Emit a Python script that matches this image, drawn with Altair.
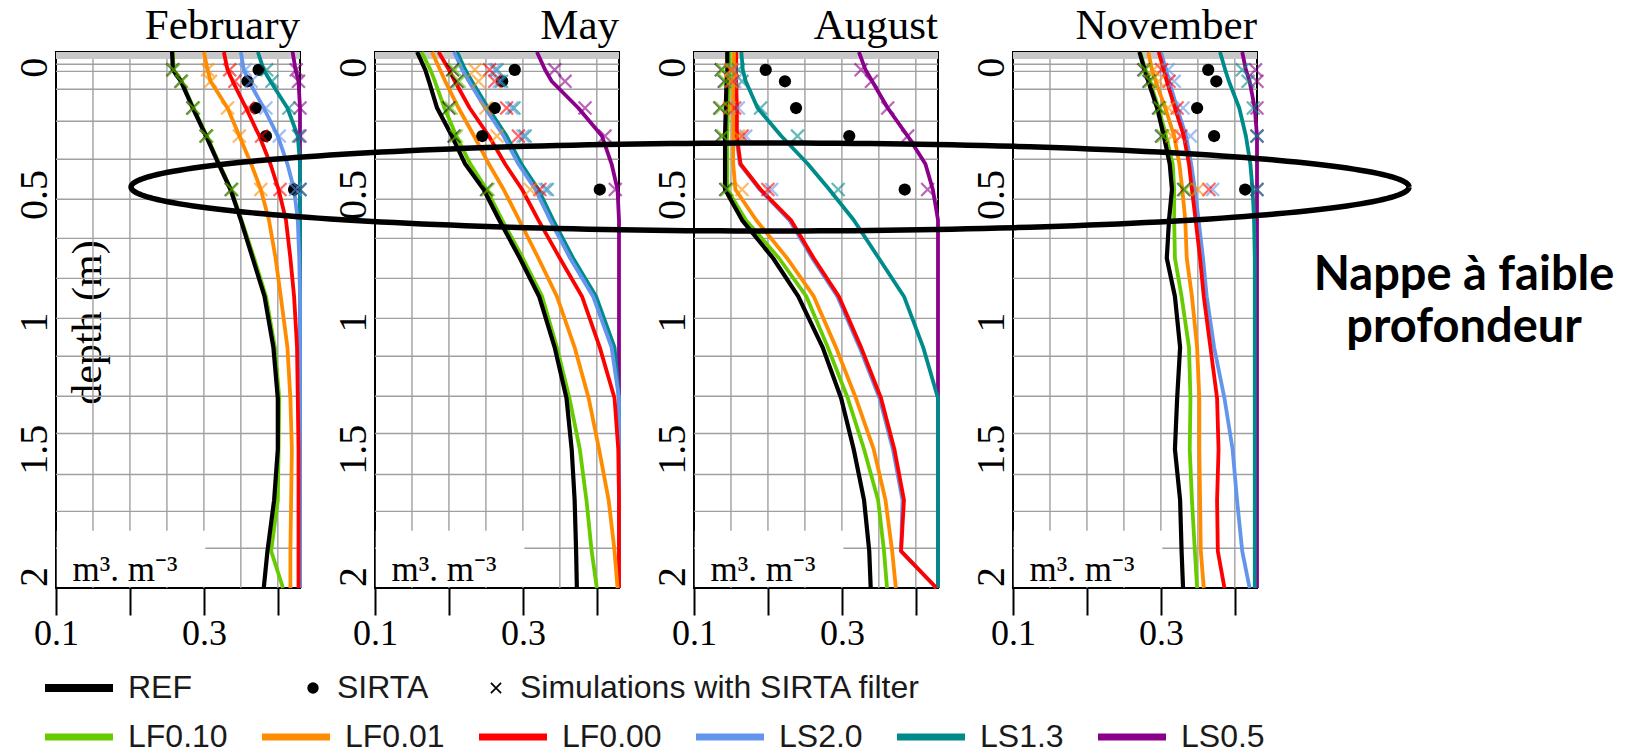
import numpy as np
import pandas as pd
import altair as alt

MONTHS = ["February", "May", "August", "November"]
SERIES = ["LF0.10", "LF0.01", "LF0.00", "LS2.0", "LS1.3", "LS0.5"]
SERIES_COLORS = ["#66cc00", "#ff8c00", "#ff0000", "#6495ed", "#008b8b", "#8b008b"]
DRAW_ORDER = ["LS0.5", "LS1.3", "LS2.0", "LF0.00", "LF0.01", "LF0.10"]

# depth levels (m) of the simulated profiles
DEPTHS = [-0.06, 0.01, 0.055, 0.16, 0.27, 0.38, 0.48, 0.6, 0.75, 0.9, 1.1, 1.3, 1.5, 1.7, 1.9, 2.045]

FEB_PROFILES = {
    "REF":    [0.257, 0.258, 0.269, 0.285, 0.303, 0.320, 0.336, 0.350, 0.366, 0.382, 0.394, 0.400, 0.400, 0.395, 0.386, 0.381],
    "LF0.10": [0.258, 0.259, 0.270, 0.286, 0.304, 0.321, 0.337, 0.351, 0.368, 0.384, 0.396, 0.402, 0.401, 0.400, 0.391, 0.407],
    "LF0.01": [0.300, 0.305, 0.309, 0.332, 0.348, 0.364, 0.377, 0.388, 0.397, 0.404, 0.413, 0.417, 0.419, 0.418, 0.417, 0.417],
    "LF0.00": [0.327, 0.332, 0.339, 0.357, 0.375, 0.390, 0.401, 0.411, 0.417, 0.422, 0.426, 0.427, 0.428, 0.428, 0.428, 0.428],
    "LS2.0":  [0.350, 0.354, 0.361, 0.381, 0.400, 0.413, 0.422, 0.427, 0.429, 0.430, 0.430, 0.430, 0.430, 0.430, 0.430, 0.430],
    "LS1.3":  [0.373, 0.381, 0.390, 0.413, 0.427, 0.430, 0.430, 0.430, 0.430, 0.430, 0.430, 0.430, 0.430, 0.430, 0.430, 0.430],
    "LS0.5":  [0.420, 0.424, 0.428, 0.430, 0.430, 0.430, 0.430, 0.430, 0.430, 0.430, 0.430, 0.430, 0.430, 0.430, 0.430, 0.430],
}
MAY_PROFILES = {
    "REF":    [0.157, 0.168, 0.173, 0.184, 0.204, 0.222, 0.247, 0.268, 0.296, 0.322, 0.343, 0.359, 0.366, 0.370, 0.372, 0.373],
    "LF0.10": [0.163, 0.175, 0.181, 0.194, 0.210, 0.229, 0.251, 0.272, 0.300, 0.326, 0.346, 0.363, 0.377, 0.386, 0.393, 0.400],
    "LF0.01": [0.177, 0.188, 0.195, 0.213, 0.234, 0.254, 0.274, 0.295, 0.321, 0.346, 0.370, 0.389, 0.403, 0.416, 0.424, 0.428],
    "LF0.00": [0.186, 0.200, 0.208, 0.228, 0.254, 0.276, 0.299, 0.321, 0.350, 0.380, 0.404, 0.424, 0.429, 0.430, 0.430, 0.430],
    "LS2.0":  [0.207, 0.218, 0.227, 0.249, 0.274, 0.294, 0.317, 0.337, 0.364, 0.395, 0.420, 0.430, 0.430, 0.430, 0.430, 0.430],
    "LS1.3":  [0.211, 0.222, 0.231, 0.253, 0.278, 0.298, 0.321, 0.341, 0.368, 0.399, 0.424, 0.430, 0.430, 0.430, 0.430, 0.430],
    "LS0.5":  [0.319, 0.330, 0.339, 0.375, 0.407, 0.420, 0.428, 0.430, 0.430, 0.430, 0.430, 0.430, 0.430, 0.430, 0.430, 0.430],
}
AUG_PROFILES = {
    "REF":    [0.145, 0.145, 0.144, 0.143, 0.142, 0.142, 0.142, 0.165, 0.207, 0.241, 0.274, 0.299, 0.316, 0.330, 0.337, 0.339],
    "LF0.10": [0.148, 0.148, 0.147, 0.146, 0.145, 0.145, 0.145, 0.170, 0.215, 0.252, 0.281, 0.308, 0.330, 0.349, 0.357, 0.361],
    "LF0.01": [0.154, 0.154, 0.153, 0.153, 0.153, 0.153, 0.156, 0.184, 0.226, 0.262, 0.292, 0.319, 0.343, 0.359, 0.368, 0.373],
    "LF0.00": [0.157, 0.157, 0.157, 0.158, 0.158, 0.163, 0.190, 0.231, 0.262, 0.296, 0.326, 0.353, 0.371, 0.384, 0.380, 0.428],
    "LS2.0":  [0.156, 0.156, 0.156, 0.157, 0.157, 0.162, 0.189, 0.229, 0.260, 0.294, 0.324, 0.351, 0.369, 0.382, 0.380, 0.428],
    "LS1.3":  [0.164, 0.166, 0.170, 0.186, 0.218, 0.254, 0.283, 0.316, 0.350, 0.384, 0.410, 0.430, 0.430, 0.430, 0.430, 0.430],
    "LS0.5":  [0.323, 0.332, 0.341, 0.362, 0.389, 0.413, 0.423, 0.430, 0.430, 0.430, 0.430, 0.430, 0.430, 0.430, 0.430, 0.430],
}
NOV_PROFILES = {
    "REF":    [0.271, 0.278, 0.283, 0.295, 0.304, 0.312, 0.315, 0.311, 0.308, 0.319, 0.326, 0.322, 0.319, 0.326, 0.328, 0.330],
    "LF0.10": [0.272, 0.279, 0.285, 0.297, 0.307, 0.316, 0.318, 0.318, 0.319, 0.328, 0.338, 0.340, 0.339, 0.342, 0.346, 0.349],
    "LF0.01": [0.283, 0.288, 0.293, 0.306, 0.318, 0.325, 0.329, 0.333, 0.335, 0.342, 0.349, 0.352, 0.352, 0.353, 0.354, 0.358],
    "LF0.00": [0.297, 0.304, 0.308, 0.319, 0.331, 0.338, 0.342, 0.347, 0.353, 0.358, 0.367, 0.376, 0.378, 0.376, 0.377, 0.386],
    "LS2.0":  [0.300, 0.307, 0.311, 0.322, 0.334, 0.341, 0.346, 0.351, 0.357, 0.362, 0.372, 0.386, 0.397, 0.403, 0.410, 0.420],
    "LS1.3":  [0.380, 0.387, 0.392, 0.406, 0.415, 0.421, 0.424, 0.426, 0.427, 0.427, 0.427, 0.427, 0.427, 0.427, 0.427, 0.427],
    "LS0.5":  [0.410, 0.415, 0.420, 0.427, 0.430, 0.430, 0.430, 0.430, 0.430, 0.430, 0.430, 0.430, 0.430, 0.430, 0.430, 0.430],
}

# SIRTA observation depths and values
SIRTA_DEPTHS = [0.01, 0.055, 0.16, 0.27, 0.48]
FEB_SIRTA = [0.374, 0.359, 0.370, 0.384, 0.422]
MAY_SIRTA = [0.289, 0.272, 0.262, 0.245, 0.404]
AUG_SIRTA = [0.197, 0.223, 0.238, 0.310, 0.385]
NOV_SIRTA = [0.364, 0.375, 0.349, 0.372, 0.414]

# simulations with SIRTA filter (crosses) at SIRTA depths
FEB_CROSSES = {
    "REF":    [0.258, 0.269, 0.285, 0.303, 0.337],
    "LF0.10": [0.259, 0.270, 0.286, 0.304, 0.338],
    "LF0.01": [0.305, 0.309, 0.332, 0.348, 0.377],
    "LF0.00": [0.335, 0.342, 0.360, 0.378, 0.403],
    "LS2.0":  [0.356, 0.364, 0.384, 0.402, 0.424],
    "LS1.3":  [0.385, 0.392, 0.415, 0.428, 0.430],
    "LS0.5":  [0.425, 0.428, 0.430, 0.430, 0.430],
}
MAY_CROSSES = {
    "REF":    [0.205, 0.211, 0.200, 0.207, 0.251],
    "LF0.10": [0.208, 0.214, 0.203, 0.210, 0.253],
    "LF0.01": [0.235, 0.240, 0.250, 0.265, 0.310],
    "LF0.00": [0.255, 0.262, 0.278, 0.294, 0.323],
    "LS2.0":  [0.262, 0.268, 0.285, 0.300, 0.330],
    "LS1.3":  [0.265, 0.271, 0.288, 0.303, 0.333],
    "LS0.5":  [0.343, 0.357, 0.384, 0.411, 0.425],
}
AUG_CROSSES = {
    "REF":    [0.137, 0.141, 0.135, 0.137, 0.143],
    "LF0.10": [0.139, 0.143, 0.137, 0.139, 0.145],
    "LF0.01": [0.150, 0.150, 0.148, 0.160, 0.165],
    "LF0.00": [0.150, 0.152, 0.155, 0.165, 0.200],
    "LS2.0":  [0.152, 0.155, 0.160, 0.170, 0.205],
    "LS1.3":  [0.160, 0.165, 0.190, 0.240, 0.295],
    "LS0.5":  [0.326, 0.340, 0.362, 0.389, 0.416],
}
NOV_CROSSES = {
    "REF":    [0.277, 0.284, 0.297, 0.301, 0.331],
    "LF0.10": [0.279, 0.286, 0.299, 0.303, 0.333],
    "LF0.01": [0.290, 0.297, 0.310, 0.315, 0.350],
    "LF0.00": [0.301, 0.311, 0.322, 0.327, 0.365],
    "LS2.0":  [0.310, 0.318, 0.330, 0.340, 0.370],
    "LS1.3":  [0.410, 0.418, 0.425, 0.430, 0.430],
    "LS0.5":  [0.428, 0.430, 0.430, 0.430, 0.430],
}

X_TICKS = [0.1, 0.2, 0.3, 0.4]
Y_LABELS = [0, 0.5, 1, 1.5, 2]
GRID_X = [0.15, 0.2, 0.25, 0.3, 0.35, 0.4]
GRID_Y = [-0.012, 0.016, 0.086, 0.212, 0.361, 0.518, 0.672, 0.829, 0.986, 1.135, 1.292, 1.438, 1.599, 1.744, 1.889]
ANNOTATION = "Nappe à faible\nprofondeur"

PROFILES = [FEB_PROFILES, MAY_PROFILES, AUG_PROFILES, NOV_PROFILES]
SIRTAS = [FEB_SIRTA, MAY_SIRTA, AUG_SIRTA, NOV_SIRTA]
CROSSES = [FEB_CROSSES, MAY_CROSSES, AUG_CROSSES, NOV_CROSSES]

CROSS_KIND = "Simulations with SIRTA filter"
# filled "x" glyph (two thin bars) so that it shows both in the plot and the legend
XPATH = "M-1,-0.78L-0.78,-1L1,0.78L0.78,1Z M0.78,-1L1,-0.78L-0.78,1L-1,0.78Z"
LINE_SYMBOL = "M-6.8,0L6.8,0"   # legend line, 68 px long at symbolSize 100

XSCALE = alt.Scale(domain=[0.1, 0.43], nice=False, zero=False)
YSCALE = alt.Scale(domain=[-0.06, 2.045], reverse=True, nice=False, zero=False)

W, H = 244, 536
SERIF = "Liberation Serif"
SANS = "Liberation Sans"


def x_axis():
    return alt.Axis(values=X_TICKS, format=".1f",
                    labelExpr="(datum.label == '0.1' || datum.label == '0.3') ? datum.label : ''",
                    grid=False, domain=False, ticks=True, tickSize=27, tickWidth=2, tickColor="black",
                    labelFont=SERIF, labelFontSize=36, labelColor="black", labelPadding=1,
                    labelFlush=False, labelOverlap=False, zindex=1,
                    title="m³. m⁻³", titleFont=SERIF, titleFontSize=35, titleFontWeight="normal",
                    titleColor="black", titleX=16, titleY=-8, titleAlign="left",
                    titleBaseline="alphabetic")


def y_axis(first):
    kw = dict(values=Y_LABELS, format="~g", grid=False, domain=False, ticks=False,
              labelAngle=270, labelAlign="center", labelBaseline="alphabetic", labelPadding=10,
              labelFont=SERIF, labelFontSize=40, labelColor="black", labelFlush=False,
              labelOverlap=False)
    if first:
        kw.update(title="depth (m)", titleFont=SERIF, titleFontSize=42, titleFontWeight="normal",
                  titleColor="black", titleAngle=270, titleX=44, titleY=270,
                  titleAlign="center", titleBaseline="alphabetic")
    else:
        kw.update(title=None)
    return alt.Axis(**kw)


legend_common = dict(title=None, orient="none", direction="horizontal", padding=0,
                     labelFont=SANS, labelFontSize=32, labelColor="#1a1a1a", symbolOpacity=1,
                     labelLimit=1000)

COLOR = alt.Color("series:N",
                  scale=alt.Scale(domain=SERIES + ["REF"], range=SERIES_COLORS + ["black"]),
                  legend=alt.Legend(values=SERIES, columns=6, legendX=7, legendY=669,
                                    symbolType=LINE_SYMBOL, symbolSize=100, symbolStrokeWidth=7,
                                    labelOffset=33, columnPadding=20, **legend_common))
STROKE = alt.Stroke("series:N", scale=alt.Scale(domain=["REF"], range=["black"]),
                    legend=alt.Legend(columns=1, legendX=7, legendY=620,
                                      symbolType=LINE_SYMBOL, symbolSize=100, symbolStrokeWidth=8,
                                      labelOffset=33, **legend_common))
SHAPE = alt.Shape("kind:N",
                  scale=alt.Scale(domain=["SIRTA", CROSS_KIND], range=["circle", XPATH]),
                  legend=alt.Legend(columns=2, legendX=241, legendY=620, symbolSize=130,
                                    labelOffset=8, columnPadding=51,
                                    symbolFillColor="black", symbolStrokeColor="black",
                                    symbolStrokeWidth=0.5, **legend_common))


def build_frames(i):
    prof = PROFILES[i]
    rows = []
    for s in DRAW_ORDER + ["REF"]:
        for d, v in zip(DEPTHS, prof[s]):
            rows.append({"series": s, "depth": d, "value": v})
    prof_df = pd.DataFrame(rows)
    crows = []
    for s in ["REF"] + SERIES[::-1]:
        for d, v in zip(SIRTA_DEPTHS, CROSSES[i][s]):
            crows.append({"series": s, "depth": d, "value": v, "kind": CROSS_KIND})
    cross_df = pd.DataFrame(crows)
    sirta_df = pd.DataFrame({"depth": SIRTA_DEPTHS, "value": SIRTAS[i], "kind": "SIRTA"})
    return prof_df, cross_df, sirta_df


def panel(i, month):
    prof_df, cross_df, sirta_df = build_frames(i)
    xa, ya = x_axis(), y_axis(i == 0)
    X = alt.X("value:Q", scale=XSCALE, axis=xa)
    Y = alt.Y("depth:Q", scale=YSCALE, axis=ya)
    one = pd.DataFrame({"k": [0]})

    grid_h = alt.Chart(pd.DataFrame({"depth": GRID_Y})).mark_rule(
        color="#a0a0a0", strokeWidth=1.4).encode(y=Y)
    grid_v = alt.Chart(pd.DataFrame({"value": GRID_X})).mark_rule(
        color="#a0a0a0", strokeWidth=1.4).encode(x=X)
    top_band = alt.Chart(one).mark_rect(color="#c8c8c8").encode(
        x=alt.datum(0.1), x2=alt.datum(0.43), y=alt.datum(-0.06), y2=alt.datum(-0.033))
    unit_box = alt.Chart(one).mark_rect(color="white").encode(
        x=alt.datum(0.101), x2=alt.datum(0.302), y=alt.datum(1.82), y2=alt.datum(2.04))

    sims = alt.Chart(prof_df[prof_df.series != "REF"]).mark_line(
        strokeWidth=3.8, strokeJoin="round").encode(
        x=X, y=Y, color=COLOR, order=alt.Order("depth:Q"), detail="series:N")
    ref = alt.Chart(prof_df[prof_df.series == "REF"]).mark_line(
        strokeWidth=4.2, strokeJoin="round").encode(
        x=X, y=Y, stroke=STROKE, order=alt.Order("depth:Q"))
    sirta = alt.Chart(sirta_df).mark_point(
        filled=True, color="black", opacity=1, size=150).encode(
        x=X, y=Y, shape=SHAPE)
    crosses = alt.Chart(cross_df).mark_point(
        filled=True, opacity=0.6, size=210).encode(
        x=X, y=Y, color=COLOR, shape=SHAPE)
    title = alt.Chart(one).mark_text(
        text=month, font=SERIF, fontSize=43, color="black", align="right",
        baseline="alphabetic").encode(x=alt.value(W), y=alt.value(-13))

    layers = [grid_h, grid_v, top_band, unit_box, sims, ref, sirta, crosses, title]

    if i == 3:
        # annotation ellipse (drawn in this panel's data units, spanning all panels)
        cx, cy, rx, ry = -0.2286, 0.4702, 0.8642, 0.1728
        t = np.linspace(0, 2 * np.pi, 241)
        ell = pd.DataFrame({"i": np.arange(len(t)), "value": cx + rx * np.cos(t),
                            "depth": cy + ry * np.sin(t)})
        ellipse = alt.Chart(ell).mark_line(color="black", strokeWidth=5.5,
                                           strokeJoin="round").encode(
            x=X, y=Y, order=alt.Order("i:Q"))
        note = alt.Chart(one).mark_text(
            text=ANNOTATION, lineBreak="\n", font="Lato", fontWeight="bold", fontSize=47,
            lineHeight=52, align="center", baseline="middle", color="black").encode(
            x=alt.datum(0.71), y=alt.datum(0.82))
        layers += [ellipse, note]

    return alt.layer(*layers).properties(width=W, height=H)


panels = [panel(i, m) for i, m in enumerate(MONTHS)]

chart = alt.hconcat(*panels, spacing=75, bounds="flush").resolve_scale(
    color="shared", stroke="shared", shape="shared").configure_view(
    stroke="black", strokeWidth=2).properties(
    padding={"left": 5, "top": -4, "right": 0, "bottom": 0})

chart.save("out.html", embed_options={"renderer": "svg", "actions": False})
